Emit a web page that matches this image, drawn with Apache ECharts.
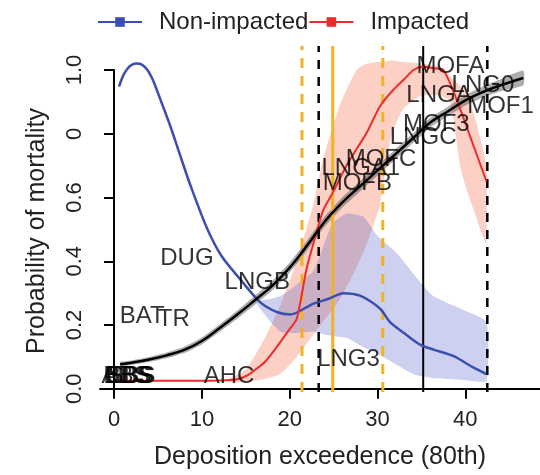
<!DOCTYPE html>
<html>
<head>
<meta charset="utf-8">
<script src="https://cdn.jsdelivr.net/npm/echarts@6.0.0/dist/echarts.min.js"></script>
<style>
  html, body { margin: 0; padding: 0; background: #fff; }
  #main { width: 540px; height: 475px; }
</style>
</head>
<body>
<div id="main"></div>
<script>
// non-impacted fit (blue) and its band
const blueX = [0.57, 1.0, 1.5, 2.0, 2.6, 3.2, 3.8, 4.4, 4.86, 6.38, 7.52, 8.66, 10.56, 12.2, 14.35, 16.63, 18.53, 20.05, 21.95, 22.7, 24.6, 26.1, 28.0, 30.3, 31.4, 33.3, 34.9, 36.4, 38.6, 40.9, 42.4];
const blueY = [0.948, 0.98, 1.003, 1.016, 1.02, 1.016, 1.0, 0.97, 0.938, 0.826, 0.733, 0.641, 0.505, 0.418, 0.344, 0.272, 0.241, 0.233, 0.256, 0.267, 0.284, 0.30, 0.292, 0.251, 0.21, 0.169, 0.138, 0.123, 0.103, 0.067, 0.046];
const blueBandX  = [16.3, 17.5, 18.9, 20.5, 22.7, 24.0, 24.9, 26.5, 28.4, 30.0, 32.2, 34.1, 34.9, 36.4, 37.9, 39.4, 42.4];
const blueBandLo = [0.265, 0.22, 0.18, 0.175, 0.18, 0.17, 0.165, 0.16, 0.13, 0.11, 0.075, 0.046, 0.04, 0.033, 0.031, 0.029, 0.025];
const blueBandHi = [0.275, 0.28, 0.29, 0.32, 0.37, 0.46, 0.52, 0.55, 0.54, 0.48, 0.425, 0.36, 0.333, 0.29, 0.27, 0.252, 0.21];

// impacted fit (red) and its band
const redX = [0.5, 4, 8, 12, 14, 15.1, 15.9, 17.2, 18.5, 19.8, 20.8, 21.9, 22.7, 23.8, 25.0, 26.5, 28.8, 30.3, 31.8, 33.0, 34.1, 35.2, 36.5, 37.5, 39.0, 40.5, 42.4];
const redY = [0.025, 0.025, 0.025, 0.026, 0.03, 0.041, 0.056, 0.085, 0.13, 0.18, 0.22, 0.374, 0.456, 0.559, 0.62, 0.702, 0.805, 0.887, 0.938, 0.97, 1.0, 1.01, 1.005, 1.0, 0.908, 0.795, 0.651];
const redBandX  = [13, 15, 17, 18.9, 20.8, 22.7, 23.8, 25.7, 27.6, 28.8, 30.3, 31.6, 33, 35, 37.1, 38.3, 39.4, 40.2, 41.1, 41.7, 42.4];
const redBandHi = [0.03, 0.06, 0.15, 0.26, 0.40, 0.58, 0.72, 0.89, 1.0, 1.02, 1.026, 1.03, 1.025, 1.02, 1.01, 0.98, 0.95, 0.93, 0.85, 0.785, 0.70];
const redBandLo = [0.02, 0.022, 0.03, 0.046, 0.10, 0.17, 0.21, 0.28, 0.38, 0.456, 0.58, 0.80, 0.88, 0.92, 0.92, 0.90, 0.70, 0.62, 0.55, 0.50, 0.456];

// overall fit (black) with grey band
const blackX  = [0.7, 2, 4, 6, 8, 10, 12, 14, 16, 18, 20, 22, 24, 26, 28, 30, 32, 34, 36, 38, 40, 42, 44, 46.6];
const blackY  = [0.077, 0.082, 0.092, 0.105, 0.122, 0.15, 0.19, 0.232, 0.277, 0.323, 0.38, 0.45, 0.525, 0.585, 0.635, 0.685, 0.735, 0.785, 0.835, 0.87, 0.905, 0.931, 0.952, 0.975];
const blackLo = [0.07, 0.075, 0.084, 0.096, 0.112, 0.139, 0.178, 0.219, 0.263, 0.308, 0.364, 0.434, 0.509, 0.569, 0.619, 0.669, 0.719, 0.77, 0.82, 0.855, 0.889, 0.914, 0.933, 0.952];
const blackHi = [0.084, 0.089, 0.1, 0.114, 0.132, 0.161, 0.202, 0.245, 0.291, 0.338, 0.396, 0.466, 0.541, 0.601, 0.651, 0.701, 0.751, 0.8, 0.85, 0.885, 0.921, 0.948, 0.971, 0.998];

// reference lines: x position and kind
const vLineX    = [21.4, 30.6, 23.3, 42.5, 24.9, 35.2];
const vLineKind = ['orangeDash', 'orangeDash', 'blackDash', 'blackDash', 'orange', 'black'];

// site labels
const siteNames = ['ABS', 'BES', 'BBS', 'EBS', 'SBS', 'BAT', 'TR', 'DUG', 'AHC', 'LNGB', 'LNG3', 'MOFB', 'LNGA1', 'MOFC', 'LNGC', 'MOF3', 'LNGA', 'MOFA', 'LNG0', 'MOF1'];
const siteX = [1.3, 1.5, 1.7, 1.85, 2.0, 3.2, 6.8, 8.3, 13.1, 16.3, 26.7, 27.7, 28.1, 30.4, 35.2, 36.7, 37.0, 38.3, 42.0, 44.0];
const siteY = [0.04, 0.04, 0.04, 0.04, 0.04, 0.228, 0.218, 0.409, 0.04, 0.335, 0.092, 0.643, 0.69, 0.72, 0.788, 0.828, 0.92, 1.01, 0.951, 0.886];

const xTicks = [0, 10, 20, 30, 40];
const yTicks = [0, 0.2, 0.4, 0.6, 0.8, 1.0];

const FONT = '"Liberation Sans", Arial, Helvetica, sans-serif';
const Y_BOTTOM = -0.01, Y_TOP = 1.075;

const vStyles = {
  orangeDash: { stroke: '#F0B323', lineWidth: 3, lineDash: [10, 8] },
  blackDash: { stroke: '#000', lineWidth: 2.5, lineDash: [9, 8] },
  orange: { stroke: '#F0B323', lineWidth: 3 },
  black: { stroke: '#000', lineWidth: 2 }
};

const zip = (xs, ys) => xs.map((x, i) => [x, ys[i]]);

// band polygon: upper edge forward, lower edge back
function band(xs, lo, hi, color, z) {
  return {
    type: 'custom', silent: true, z: z, clip: false,
    data: xs.map((x, i) => [x, lo[i], hi[i]]),
    renderItem: (params, api) => {
      if (params.dataIndex !== 0) return null;
      const top = xs.map((x, i) => api.coord([x, hi[i]]));
      const bot = xs.map((x, i) => api.coord([x, lo[i]])).reverse();
      return {
        type: 'polygon',
        shape: { points: top.concat(bot), smooth: 0.15 },
        style: { fill: color, stroke: null }
      };
    }
  };
}

const chart = echarts.init(document.getElementById('main'));

chart.setOption({
  animation: false,
  textStyle: { fontFamily: FONT },
  legend: {
    data: ['Non-impacted', 'Impacted'],
    left: 92, top: 5,
    itemWidth: 44, itemHeight: 12, itemGap: 0,
    textStyle: { fontSize: 24, color: '#222', padding: [0, 0, 0, 12], fontFamily: FONT }
  },
  grid: { left: 100, right: 0, top: 70, bottom: 77, containLabel: false },
  xAxis: {
    type: 'value', min: -1.6, max: 48.5,
    name: 'Deposition exceedence (80th)', nameLocation: 'middle', nameGap: 53,
    nameTextStyle: { fontSize: 25, color: '#222', fontFamily: FONT },
    axisLine: { show: true, lineStyle: { color: '#000', width: 2 } },
    axisTick: { show: true, length: 10, lineStyle: { color: '#000', width: 2 }, customValues: xTicks },
    axisLabel: { customValues: xTicks, fontSize: 22, color: '#222', margin: 17, fontFamily: FONT },
    splitLine: { show: false }
  },
  yAxis: {
    type: 'value', min: Y_BOTTOM, max: 1.0,
    name: 'Probability of mortality', nameLocation: 'middle', nameGap: 50, nameRotate: 90,
    nameTextStyle: { fontSize: 25, color: '#222', fontFamily: FONT },
    axisLine: { show: true, lineStyle: { color: '#000', width: 2 } },
    axisTick: { show: true, length: 10, lineStyle: { color: '#000', width: 2 }, customValues: yTicks },
    axisLabel: {
      customValues: yTicks, rotate: 90, fontSize: 22, color: '#222', margin: 14, fontFamily: FONT,
      formatter: v => (Math.abs(v - 0.8) < 1e-9 ? '0' : v.toFixed(1))
    },
    splitLine: { show: false }
  },
  series: [
    band(redBandX, redBandLo, redBandHi, 'rgba(245,110,70,0.32)', 1),
    band(blueBandX, blueBandLo, blueBandHi, 'rgba(90,100,200,0.30)', 1),
    band(blackX, blackLo, blackHi, 'rgba(70,70,70,0.45)', 2),
    {
      type: 'custom', name: 'vlines', silent: true, clip: false, z: 3,
      data: vLineX.map((x, i) => [x, i]),
      renderItem: (params, api) => {
        const i = params.dataIndex;
        const p1 = api.coord([vLineX[i], Y_BOTTOM]);
        const p2 = api.coord([vLineX[i], Y_TOP]);
        return {
          type: 'line',
          shape: { x1: p1[0], y1: p1[1], x2: p2[0], y2: p2[1] },
          style: Object.assign({ fill: null }, vStyles[vLineKind[i]])
        };
      }
    },
    {
      type: 'line', name: 'Non-impacted', data: zip(blueX, blueY),
      symbol: 'rect', showSymbol: false, smooth: 0.3, clip: false, z: 4,
      itemStyle: { color: '#3C4FAF' },
      lineStyle: { color: '#3C4FAF', width: 2.5 }
    },
    {
      type: 'line', name: 'Impacted', data: zip(redX, redY),
      symbol: 'rect', showSymbol: false, smooth: 0.25, clip: false, z: 4,
      itemStyle: { color: '#EE2B2B' },
      lineStyle: { color: '#EE2B2B', width: 2 }
    },
    {
      type: 'line', name: 'overall', data: zip(blackX, blackY),
      symbol: 'none', smooth: 0.4, clip: false, z: 4,
      lineStyle: { color: '#000', width: 2.5 }
    },
    {
      type: 'scatter', name: 'sites', clip: false, z: 5, silent: true,
      symbolSize: 1, itemStyle: { color: 'rgba(0,0,0,0)' },
      label: { show: true, position: 'inside', formatter: '{b}', fontSize: 24, color: '#000', fontFamily: FONT },
      data: siteNames.map((n, i) => ({ name: n, value: [siteX[i], siteY[i]] }))
    }
  ]
});
</script>
</body>
</html>
